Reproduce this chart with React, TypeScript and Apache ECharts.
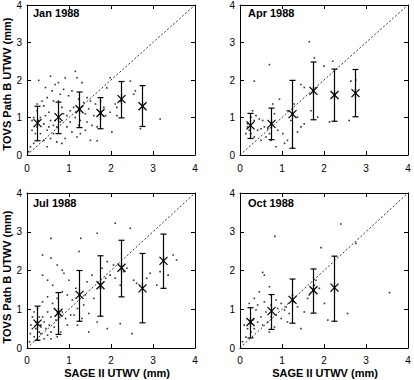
import React, { useEffect, useRef } from "react";
import * as echarts from "echarts";

const binX = [0.25, 0.75, 1.25, 1.75, 2.25, 2.75, 3.25];
const axisTicks = [0, 1, 2, 3, 4];

const janMean = [0.85, 1.01, 1.22, 1.12, 1.49, 1.30];
const janLow = [0.38, 0.57, 0.73, 0.7, 0.99, 0.76];
const janHigh = [1.3, 1.41, 1.68, 1.53, 1.96, 1.85];

const aprMean = [0.79, 0.83, 1.09, 1.71, 1.6, 1.65];
const aprLow = [0.44, 0.41, 0.18, 0.94, 0.9, 1.02];
const aprHigh = [1.11, 1.25, 1.99, 2.48, 2.29, 2.28];

const julMean = [0.63, 0.91, 1.37, 1.62, 2.07, 1.54, 2.25];
const julLow = [0.2, 0.35, 0.69, 0.82, 1.32, 0.65, 1.54];
const julHigh = [1.08, 1.43, 2.0, 2.38, 2.78, 2.44, 2.94];

const octMean = [0.67, 0.95, 1.24, 1.49, 1.56];
const octLow = [0.26, 0.48, 0.64, 0.9, 0.69];
const octHigh = [1.04, 1.38, 1.78, 2.04, 2.37];

const janScatter = [
  [0.56, 2.1], [0.28, 1.99], [0.75, 1.93], [0.91, 2.06], [1.15, 2.23], [1.19, 2.06], [1.31, 1.93],
  [2.46, 1.97], [1.98, 2.06], [0.6, 1.71], [0.48, 1.53], [0.36, 1.44], [0.63, 1.44], [0.87, 1.75],
  [0.99, 1.58], [1.43, 1.53], [1.75, 1.44], [1.9, 1.79], [2.14, 1.27], [2.54, 1.62], [2.58, 1.71],
  [3.17, 0.96], [0.24, 1.18], [0.32, 1.0], [0.44, 1.05], [0.52, 1.14], [0.56, 0.92], [0.63, 0.79],
  [0.71, 0.75], [0.79, 0.88], [0.87, 1.1], [0.95, 1.05], [1.03, 1.18], [1.11, 1.27], [1.15, 1.0],
  [1.27, 0.92], [1.39, 1.1], [1.47, 1.23], [1.59, 1.05], [1.67, 0.75], [1.83, 1.27], [2.02, 0.61],
  [1.27, 0.57], [1.19, 0.48], [1.07, 0.61], [0.91, 0.44], [0.71, 0.35], [0.56, 0.44], [0.4, 0.39],
  [0.16, 0.31], [0.08, 0.22], [0.32, 0.57], [0.12, 0.66], [0.48, 0.66], [0.63, 0.57], [1.67, 0.38],
  [2.7, 0.7], [1.39, 0.66], [0.83, 1.27], [0.75, 1.44], [0.4, 1.31], [0.24, 0.75], [0.2, 0.57],
  [0.12, 0.92], [0.28, 0.92], [0.4, 0.83], [0.52, 0.75], [0.67, 0.92], [0.95, 0.75], [1.03, 0.88],
  [1.23, 0.79], [1.43, 0.88], [1.55, 0.79], [1.75, 0.96], [1.87, 1.05], [1.98, 1.14], [2.1, 1.36],
  [2.22, 1.44], [0.44, 1.8], [0.67, 1.88], [0.79, 1.62], [1.07, 1.71], [1.23, 1.49], [1.35, 1.4],
  [1.51, 1.44], [1.63, 1.36], [0.24, 1.36], [0.16, 1.0], [0.04, 0.09], [0.48, 0.22], [0.83, 0.31],
  [1.51, 0.39], [2.14, 1.05]
];

const aprScatter = [
  [0.34, 1.97], [0.7, 2.41], [1.65, 3.02], [1.77, 2.59], [2.0, 2.37], [2.21, 2.5], [2.64, 1.97],
  [2.76, 2.0], [1.45, 1.88], [1.53, 1.8], [0.78, 1.36], [0.94, 1.49], [1.13, 1.18], [1.29, 1.36],
  [1.85, 1.01], [2.13, 0.88], [2.6, 0.92], [1.53, 0.83], [1.45, 0.75], [1.37, 0.61], [1.06, 0.31],
  [1.02, 0.57], [0.9, 0.66], [0.74, 0.83], [0.66, 0.7], [0.58, 0.75], [0.5, 0.7], [0.42, 0.66],
  [0.34, 0.92], [0.26, 1.01], [0.38, 1.05], [0.46, 0.96], [0.54, 0.92], [0.18, 0.83], [0.22, 0.66],
  [0.14, 0.57], [0.34, 0.48], [0.5, 0.39], [0.62, 0.48], [0.74, 0.39], [0.86, 0.22], [0.18, 0.75],
  [0.3, 1.18], [0.82, 1.1], [1.21, 0.92], [1.13, 0.39], [1.37, 1.01], [1.69, 1.18], [0.7, 0.57],
  [0.26, 0.57]
];

const julScatter = [
  [2.1, 3.22], [1.67, 2.96], [1.28, 2.83], [2.46, 3.09], [1.24, 2.49], [0.37, 2.4], [0.57, 2.32],
  [0.72, 2.14], [0.84, 2.01], [0.37, 1.88], [0.49, 1.75], [0.61, 1.62], [0.88, 1.93], [1.0, 1.75],
  [1.16, 1.54], [1.43, 1.71], [1.55, 1.88], [1.79, 2.06], [1.91, 2.23], [2.06, 2.14], [2.22, 1.62],
  [2.54, 1.75], [2.61, 1.67], [2.85, 1.8], [2.93, 1.93], [3.36, 1.88], [3.56, 2.27], [3.48, 2.4],
  [3.17, 1.97], [3.09, 1.62], [2.5, 0.37], [2.22, 0.63], [1.91, 0.5], [1.67, 0.67], [1.47, 0.89],
  [1.35, 1.11], [1.2, 1.02], [1.08, 1.24], [0.96, 1.37], [0.84, 1.45], [0.72, 1.28], [0.61, 1.15],
  [0.49, 1.32], [0.37, 1.19], [0.25, 1.02], [0.17, 0.93], [0.13, 0.8], [0.09, 0.59], [0.08, 0.37],
  [0.06, 0.16], [0.17, 0.29], [0.21, 0.5], [0.29, 0.41], [0.33, 0.59], [0.41, 0.67], [0.45, 0.5],
  [0.53, 0.59], [0.57, 0.41], [0.65, 0.54], [0.69, 0.72], [0.76, 0.8], [0.84, 0.93], [0.92, 0.76],
  [0.96, 0.59], [1.04, 0.85], [0.8, 0.41], [0.72, 0.29], [0.57, 0.24], [0.41, 0.24], [0.25, 0.2],
  [0.37, 0.8], [0.49, 0.93], [0.57, 0.8], [0.65, 1.02], [0.33, 0.37], [0.49, 0.33], [0.13, 0.5],
  [0.21, 0.67], [0.29, 0.8], [1.2, 0.59], [1.31, 0.76], [1.12, 0.85], [1.39, 1.37], [1.59, 1.28],
  [1.75, 1.54], [1.87, 1.8], [1.98, 1.88], [2.1, 1.8], [2.3, 1.97], [2.38, 2.06], [0.57, 2.83],
  [0.72, 0.93], [1.47, 0.41]
];

const octScatter = [
  [0.83, 2.88], [1.93, 2.59], [2.4, 3.2], [2.76, 2.7], [3.56, 1.43], [0.54, 1.95], [0.58, 1.88],
  [0.7, 1.58], [0.46, 1.45], [0.34, 1.28], [0.22, 1.15], [0.42, 1.11], [0.58, 1.19], [0.74, 1.37],
  [0.86, 1.24], [0.98, 1.15], [1.1, 1.06], [1.29, 1.19], [1.37, 1.06], [1.53, 0.93], [1.65, 1.37],
  [1.77, 1.62], [1.81, 1.75], [1.89, 1.54], [2.01, 1.15], [2.09, 0.72], [2.56, 0.89], [1.45, 0.5],
  [1.13, 0.67], [0.98, 0.76], [0.86, 0.85], [0.74, 0.8], [0.66, 0.67], [0.54, 0.59], [0.42, 0.67],
  [0.34, 0.5], [0.26, 0.41], [0.14, 0.28], [0.06, 0.16], [0.18, 0.5], [0.3, 0.72], [0.5, 0.8],
  [0.62, 0.93], [0.74, 1.11], [0.9, 1.02], [1.06, 0.98], [1.17, 0.89], [0.7, 0.41], [0.82, 0.54],
  [0.38, 0.98], [0.1, 0.59], [1.25, 1.37], [1.61, 1.28]
];

const panelNames = ["Jan 1988", "Apr 1988", "Jul 1988", "Oct 1988"];
const xTitle = "SAGE II UTWV (mm)";
const yTitle = "TOVS Path B UTWV (mm)";

const FONT = "'Liberation Sans', Arial, Helvetica, sans-serif";

function renderErr(params: any, api: any) {
  const x = api.value(0);
  const m = api.value(1);
  const lo = api.value(2);
  const hi = api.value(3);
  const pm = api.coord([x, m]);
  const pl = api.coord([x, lo]);
  const ph = api.coord([x, hi]);
  const cap = 3;
  const s = 4;
  const style = { stroke: "#000", lineWidth: 1.2, fill: "none" };
  const ln = (x1: number, y1: number, x2: number, y2: number) => ({
    type: "line",
    shape: { x1, y1, x2, y2 },
    style,
  });
  return {
    type: "group",
    children: [
      ln(pl[0], pl[1], ph[0], ph[1]),
      ln(pl[0] - cap, pl[1], pl[0] + cap, pl[1]),
      ln(ph[0] - cap, ph[1], ph[0] + cap, ph[1]),
      ln(pm[0] - s, pm[1] - s, pm[0] + s, pm[1] + s),
      ln(pm[0] - s, pm[1] + s, pm[0] + s, pm[1] - s),
      ln(pm[0], pm[1] - s - 1, pm[0], pm[1] + s + 1),
    ],
  };
}

export default function App() {
  const ref = useRef<HTMLDivElement>(null);
  useEffect(() => {
    if (!ref.current) return;
    const chart = echarts.init(ref.current, undefined, { renderer: "svg" });

    const grids = [
      { left: 27, top: 3, width: 168, height: 152 },
      { left: 240, top: 3, width: 168, height: 152 },
      { left: 27, top: 193, width: 168, height: 155 },
      { left: 240, top: 193, width: 168, height: 155 },
    ];
    const scatters = [janScatter, aprScatter, julScatter, octScatter];
    const means = [janMean, aprMean, julMean, octMean];
    const lows = [janLow, aprLow, julLow, octLow];
    const highs = [janHigh, aprHigh, julHigh, octHigh];

    const xAxes: any[] = [];
    const yAxes: any[] = [];
    const series: any[] = [];

    const baseAxis = (extra: any) => ({
      type: "value",
      min: axisTicks[0],
      max: axisTicks[axisTicks.length - 1],
      interval: 1,
      splitLine: { show: false },
      axisLine: { show: true, onZero: false, lineStyle: { color: "#000", width: 1 } },
      axisTick: { show: true, inside: true, length: 4, lineStyle: { color: "#000" } },
      ...extra,
    });

    grids.forEach((g, i) => {
      xAxes.push(
        baseAxis({
          gridIndex: i,
          position: "bottom",
          axisLabel: { show: true, margin: i < 2 ? 8 : 7, color: "#000", fontSize: 10, fontFamily: FONT },
        })
      );
      xAxes.push(baseAxis({ gridIndex: i, position: "top", axisLabel: { show: false } }));
      yAxes.push(
        baseAxis({
          gridIndex: i,
          position: "left",
          axisLabel: { show: true, margin: 5, color: "#000", fontSize: 10, fontFamily: FONT },
        })
      );
      yAxes.push(baseAxis({ gridIndex: i, position: "right", axisLabel: { show: false } }));

      series.push({
        type: "line",
        xAxisIndex: 2 * i,
        yAxisIndex: 2 * i,
        data: [
          [axisTicks[0], axisTicks[0]],
          [axisTicks[4], axisTicks[4]],
        ],
        showSymbol: false,
        symbol: "none",
        lineStyle: { color: "#000", width: 0.8, type: [2, 2] },
        silent: true,
      });
      series.push({
        type: "scatter",
        xAxisIndex: 2 * i,
        yAxisIndex: 2 * i,
        data: scatters[i],
        symbol: "rect",
        symbolSize: 1.6,
        itemStyle: { color: "#000" },
        silent: true,
      });
      series.push({
        type: "custom",
        xAxisIndex: 2 * i,
        yAxisIndex: 2 * i,
        renderItem: renderErr,
        encode: { x: 0, y: 1 },
        data: means[i].map((m, k) => [binX[k], m, lows[i][k], highs[i][k]]),
        silent: true,
        z: 5,
      });
    });

    const labelPos = [
      [33, 13],
      [248, 13],
      [33, 203],
      [248, 203],
    ];

    const graphic: any[] = panelNames.map((name, i) => ({
      type: "text",
      x: labelPos[i][0],
      y: labelPos[i][1],
      style: {
        text: name,
        fill: "#000",
        font: `bold 11px ${FONT}`,
        textAlign: "left",
        textVerticalAlign: "middle",
      },
    }));
    [84, 277].forEach((cy) => {
      graphic.push({
        type: "text",
        x: 7,
        y: cy,
        rotation: Math.PI / 2,
        style: {
          text: yTitle,
          fill: "#000",
          font: `bold 11px ${FONT}`,
          textAlign: "center",
          textVerticalAlign: "middle",
        },
      });
    });
    [117, 325].forEach((cx) => {
      graphic.push({
        type: "text",
        x: cx,
        y: 373,
        style: {
          text: xTitle,
          fill: "#000",
          font: `bold 11px ${FONT}`,
          textAlign: "center",
          textVerticalAlign: "middle",
        },
      });
    });

    chart.setOption({
      animation: false,
      backgroundColor: "#fff",
      grid: grids.map((g) => ({ ...g, containLabel: false })),
      xAxis: xAxes,
      yAxis: yAxes,
      series,
      graphic,
    });
    return () => chart.dispose();
  }, []);
  return (
    <div
      ref={ref}
      style={{ position: "absolute", left: 0, top: 0, width: 414, height: 380, background: "#fff" }}
    />
  );
}
